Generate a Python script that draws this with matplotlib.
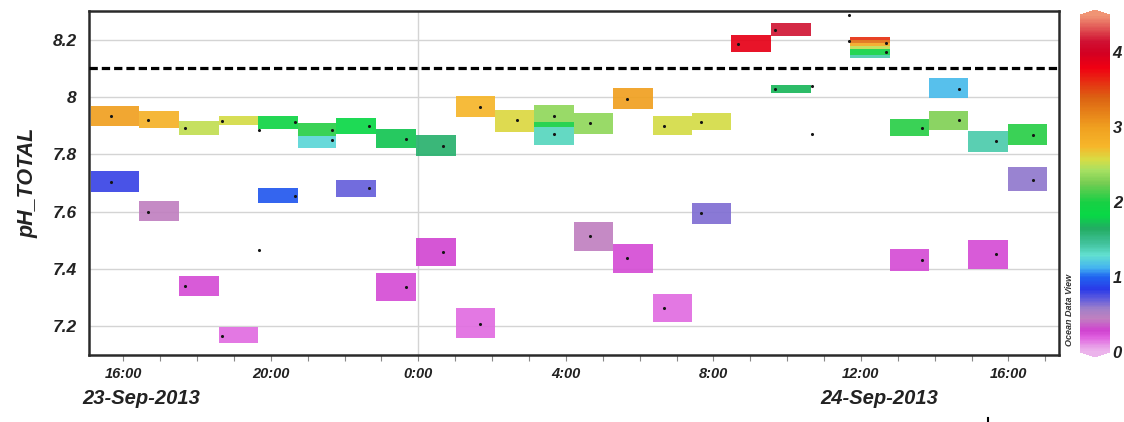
import matplotlib
matplotlib.use("Agg")
import matplotlib.pyplot as plt
import numpy as np
from matplotlib.colors import LinearSegmentedColormap, Normalize
from matplotlib.cm import ScalarMappable
from matplotlib.ticker import FixedLocator, FuncFormatter, MultipleLocator
import matplotlib.transforms as mtransforms

plt.rcParams['font.family'] = ['Liberation Sans', 'DejaVu Sans']

# ---------------- data (time in hours since 23-Sep-2013 00:00) ----------------
bin_edges_h = [15.13, 16.43, 17.52, 18.59, 19.66, 20.73, 21.78, 22.86, 23.93, 25.01,
               26.07, 27.14, 28.21, 29.28, 30.35, 31.42, 32.49, 33.55, 34.64, 35.69,
               36.78, 37.84, 38.91, 39.98, 41.05]

box_bin = [0, 0, 1, 1, 2, 2, 3, 3, 4, 4, 5, 5, 6, 6, 7, 7, 8, 8, 9, 9, 10,
           11, 11, 11, 12, 12, 13, 13, 14, 14, 15, 15, 16, 17, 17,
           19, 19, 19, 19, 19, 19, 20, 20, 21, 21, 22, 22, 23, 23]
box_low = [7.900, 7.670, 7.891, 7.566, 7.866, 7.306, 7.901, 7.142, 7.890, 7.631,
           7.863, 7.821, 7.872, 7.651, 7.822, 7.290, 7.793, 7.411, 7.930, 7.160,
           7.878, 7.913, 7.896, 7.834, 7.872, 7.464, 7.958, 7.387, 7.866, 7.214,
           7.884, 7.557, 8.156, 8.212, 8.014,
           8.198, 8.187, 8.177, 8.168, 8.146, 8.136,
           7.863, 7.394, 7.997, 7.886, 7.809, 7.400, 7.831, 7.671]
box_high = [7.967, 7.743, 7.950, 7.637, 7.916, 7.377, 7.934, 7.199, 7.934, 7.683,
            7.910, 7.863, 7.928, 7.712, 7.888, 7.386, 7.866, 7.508, 8.002, 7.263,
            7.956, 7.973, 7.913, 7.896, 7.944, 7.564, 8.031, 7.486, 7.932, 7.312,
            7.944, 7.630, 8.217, 8.258, 8.043,
            8.209, 8.198, 8.187, 8.177, 8.168, 8.146,
            7.923, 7.470, 8.066, 7.950, 7.883, 7.501, 7.906, 7.756]
box_value = [3.0, 0.80, 2.8, 0.45, 2.5, 0.26, 2.55, 0.17, 1.9, 0.95,
             2.05, 1.25, 1.85, 0.70, 1.75, 0.26, 1.6, 0.28, 2.75, 0.17,
             2.6, 2.35, 2.0, 1.35, 2.35, 0.45, 3.0, 0.26, 2.55, 0.17,
             2.55, 0.65, 3.85, 4.15, 1.7,
             3.6, 3.3, 2.9, 2.5, 1.95, 1.4,
             2.05, 0.26, 1.15, 2.3, 1.4, 0.26, 2.05, 0.60]

dot_hour = [15.667, 15.667, 16.667, 16.667, 17.667, 17.667, 18.667, 18.667,
            19.667, 19.667, 20.667, 20.667, 21.667, 21.667, 22.667, 22.667,
            23.667, 23.667, 24.667, 24.667, 25.667, 25.667, 26.667,
            27.667, 27.667, 28.667, 28.667, 29.667, 29.667, 30.667, 30.667,
            31.667, 31.667, 32.667, 33.667, 33.667, 34.667, 34.667,
            35.667, 35.667, 36.667, 36.667, 37.667, 37.667, 38.667, 38.667,
            39.667, 39.667, 40.667, 40.667]
dot_ph = [7.933, 7.705, 7.921, 7.600, 7.893, 7.342, 7.915, 7.167,
          7.886, 7.465, 7.913, 7.656, 7.886, 7.849, 7.898, 7.683,
          7.855, 7.336, 7.828, 7.461, 7.965, 7.209, 7.919,
          7.933, 7.871, 7.909, 7.514, 7.994, 7.437, 7.898, 7.263,
          7.913, 7.595, 8.185, 8.235, 8.029, 8.037, 7.872,
          8.287, 8.194, 8.188, 8.156, 7.892, 7.432, 8.029, 7.919,
          7.848, 7.451, 7.867, 7.712]

reference_ph = 8.1
y_ticks = [7.2, 7.4, 7.6, 7.8, 8.0, 8.2]
y_tick_labels = ["7.2", "7.4", "7.6", "7.8", "8", "8.2"]
x_major_hours = [16, 20, 24, 28, 32, 36, 40]
date_labels = ["23-Sep-2013", "24-Sep-2013"]
date_label_hours = [16.48, 36.49]
cbar_ticks = [0, 1, 2, 3, 4]

# colour scale (value, colour)
cmap_stops = [(0.00, "#ecb4ec"), (0.06, "#e8a0e8"), (0.18, "#e062e0"), (0.28, "#d042d0"),
              (0.44, "#c080c0"), (0.57, "#a080c8"), (0.68, "#6a62da"), (0.83, "#2a3ae8"),
              (1.00, "#2064f0"), (1.12, "#44b4f0"), (1.29, "#62e0d0"), (1.43, "#44c4a0"),
              (1.65, "#22ac62"), (1.82, "#08d846"), (2.00, "#18d044"), (2.25, "#74cc52"),
              (2.43, "#a8e062"), (2.57, "#d8dc44"), (2.75, "#f6b62a"), (3.00, "#f0a020"),
              (3.40, "#dc6212"), (3.80, "#f00012"), (4.00, "#d20022"), (4.15, "#d01032"),
              (4.50, "#f09474")]
vmin, vmax = 0.0, 4.5

# ---------------- figure ----------------
W, H = 1124, 422
fig = plt.figure(figsize=(W / 100, H / 100), dpi=100)
ax = fig.add_axes([89 / W, 1 - 355 / H, (1059 - 89) / W, (355 - 11) / H])

cmap = LinearSegmentedColormap.from_list(
    "odv", [((v - vmin) / (vmax - vmin), c) for v, c in cmap_stops])
norm = Normalize(vmin=vmin, vmax=vmax)

edges = np.array(bin_edges_h)
bins = np.array(box_bin)
lo = np.array(box_low)
hi = np.array(box_high)
ax.bar(edges[bins], hi - lo, width=edges[bins + 1] - edges[bins], bottom=lo,
       align='edge', color=cmap(norm(np.array(box_value))), linewidth=0,
       alpha=0.92, zorder=2)

ax.scatter(dot_hour, dot_ph, s=5, c="#151515", linewidths=0, zorder=4)

ax.axhline(reference_ph, color="black", lw=2.3, dashes=(2.6, 1.25), zorder=5)

ax.set_xlim(15.07, 41.37)
ax.set_ylim(7.1, 8.3)

ax.set_yticks(y_ticks)
ax.set_yticklabels(y_tick_labels)
ax.yaxis.set_tick_params(length=0, pad=9)
for t in ax.get_yticklabels():
    t.set_fontsize(12.5)
    t.set_fontweight("bold")
    t.set_fontstyle("italic")
    t.set_color("#222222")

ax.xaxis.set_major_locator(FixedLocator(x_major_hours))
ax.xaxis.set_minor_locator(MultipleLocator(1))
ax.xaxis.set_major_formatter(FuncFormatter(lambda h, p: f"{int(round(h)) % 24}:00"))
ax.tick_params(axis="x", which="both", direction="out", length=4, width=0.8,
               color="#888888", pad=5)
for t in ax.get_xticklabels():
    t.set_fontsize(10.5)
    t.set_fontweight("bold")
    t.set_fontstyle("italic")
    t.set_color("#222222")

ax.grid(axis="y", color="#d4d4d4", lw=1.0, zorder=0)
ax.axvline(24, color="#d4d4d4", lw=1.0, zorder=0)
ax.set_axisbelow(True)

for s in ax.spines.values():
    s.set_linewidth(1.8)
    s.set_color("#2a2a2a")

ax.set_ylabel("pH_TOTAL", fontsize=15.5, fontweight="bold", fontstyle="italic",
              color="#222222")
ax.yaxis.set_label_coords(-(89 - 38) / (1059 - 89), 0.5)

trans = mtransforms.blended_transform_factory(ax.transData, ax.transAxes)
for lab, h in zip(date_labels, date_label_hours):
    ax.text(h, -(399 - 355) / (355 - 11), lab, transform=trans, ha="center", va="center",
            fontsize=14.5, fontweight="bold", fontstyle="italic", color="#222222")

# colour bar
cax = fig.add_axes([1080 / W, 1 - 357 / H, 30 / W, (357 - 10) / H])
cb = fig.colorbar(ScalarMappable(norm=norm, cmap=cmap), cax=cax, extend="both",
                  extendfrac=0.015)
cb.outline.set_visible(False)
cb.set_ticks(cbar_ticks)
cb.ax.tick_params(length=0, pad=2)
for t in cb.ax.get_yticklabels():
    t.set_fontsize(12)
    t.set_fontweight("bold")
    t.set_fontstyle("italic")
    t.set_color("#222222")

fig.text(1069 / W, 1 - 310 / H, "Ocean Data View", rotation=90, ha="center",
         va="center", fontsize=6.5, fontstyle="italic", fontweight="bold",
         color="#333333")

fig.add_artist(plt.Line2D([988 / W, 988 / W], [0, 4 / H], color="black", lw=1.5))

fig.savefig("out.png", dpi=100)
